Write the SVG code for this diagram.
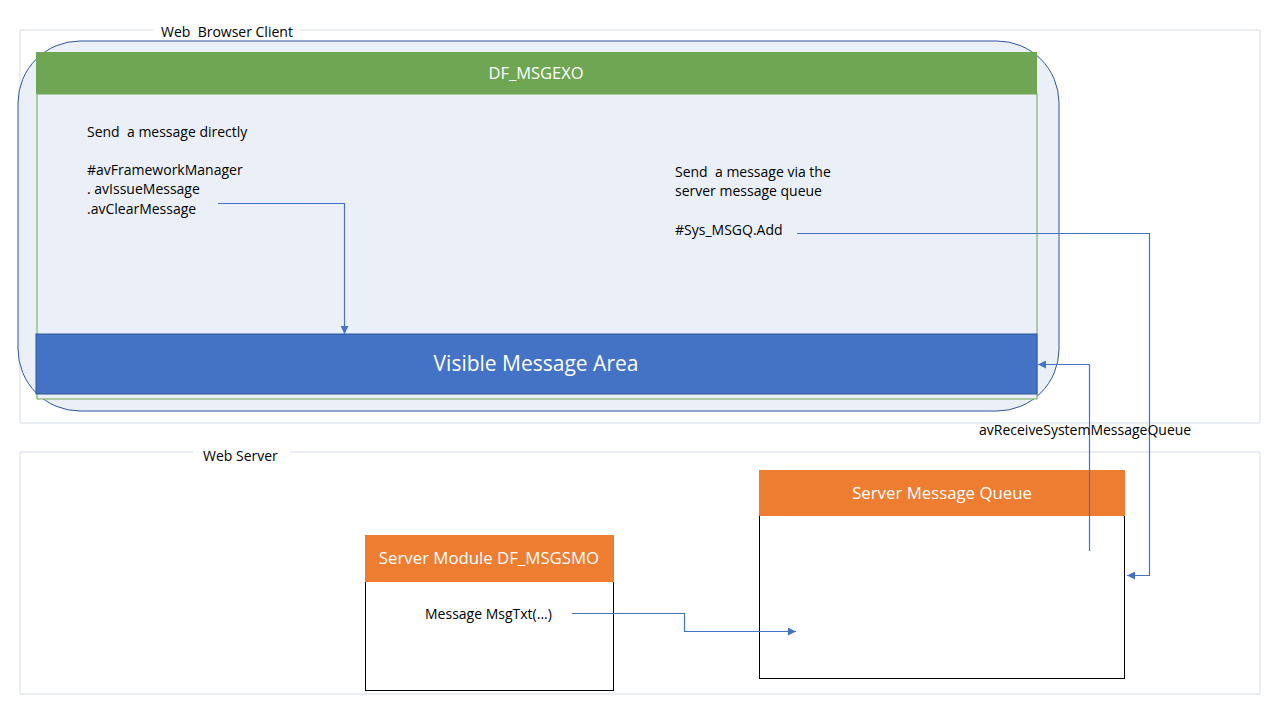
<svg xmlns="http://www.w3.org/2000/svg" width="1280" height="720" viewBox="0 0 1280 720">
<style>
.frame{fill:none;stroke:#D6DCE5;stroke-width:1}
.t{font-family:"Open Sans","Liberation Sans",sans-serif;font-size:14px;fill:#000;white-space:pre}
.w{font-family:"Open Sans","Liberation Sans",sans-serif;fill:#fff;text-anchor:middle}
.c{fill:none;stroke:#4472C4;stroke-width:1.2}
</style>
<defs>
<marker id="ah" viewBox="0 0 10 10" refX="10" refY="5" markerWidth="8" markerHeight="8" markerUnits="userSpaceOnUse" orient="auto">
<path d="M0,0 L10,5 L0,10 z" fill="#4472C4"/>
</marker>
</defs>
<rect width="1280" height="720" fill="#fff"/>
<g id="web-browser-client">
<path class="frame" d="M153,30 H20 V423 H1260 V30 H300"/>
<text class="t" x="161" y="37" xml:space="preserve">Web  Browser Client</text>
<rect x="18" y="41" width="1041" height="370" rx="62" ry="62" fill="#EBF0F8" stroke="#2F5597" stroke-width="1"/>
</g>
<g id="df-msgexo">
<rect x="37" y="94" width="1000" height="305" fill="#EBF0F8" stroke="#6FA852" stroke-width="1"/>
<rect x="36" y="52" width="1001" height="42" fill="#6EA653"/>
<text class="w" x="536" y="79" font-size="16.5">DF_MSGEXO</text>
<text class="t" x="87" y="137" xml:space="preserve">Send  a message directly</text>
<text class="t" x="87" y="175">#avFrameworkManager</text>
<text class="t" x="87" y="194">. avIssueMessage</text>
<text class="t" x="87" y="214">.avClearMessage</text>
<text class="t" x="675" y="177" xml:space="preserve">Send  a message via the</text>
<text class="t" x="675" y="196">server message queue</text>
<text class="t" x="675" y="235">#Sys_MSGQ.Add</text>
</g>
<g id="visible-message-area">
<rect x="36" y="334" width="1001" height="60" fill="#4472C4" stroke="#2F5597" stroke-width="1"/>
<text class="w" x="536" y="371" font-size="21">Visible Message Area</text>
</g>
<g id="web-server">
<path class="frame" d="M193,452 H20 V694 H1260 V452 H290"/>
<text class="t" x="203" y="461">Web Server</text>
</g>
<g id="server-module">
<rect x="365.5" y="535.5" width="248" height="155" fill="#fff" stroke="#000" stroke-width="1"/>
<rect x="365" y="535" width="249" height="47" fill="#ED7D31"/>
<text class="w" x="489" y="564" font-size="16.8">Server Module DF_MSGSMO</text>
<text class="t" x="425" y="619">Message MsgTxt(...)</text>
</g>
<g id="server-message-queue">
<rect x="759.5" y="470.5" width="365" height="208" fill="#fff" stroke="#000" stroke-width="1"/>
<rect x="759" y="470" width="366" height="46" fill="#ED7D31"/>
<text class="w" x="942" y="499" font-size="16.8">Server Message Queue</text>
</g>
<g id="connectors">
<polyline class="c" points="218,203.5 344.5,203.5 344.5,334" marker-end="url(#ah)"/>
<polyline class="c" points="797,233.5 1149.5,233.5 1149.5,575.5 1127,575.5" marker-end="url(#ah)"/>
<polyline class="c" points="1089.5,551 1089.5,364.5 1038,364.5" marker-end="url(#ah)"/>
<polyline class="c" points="572,613.5 684.5,613.5 684.5,631.5 796,631.5" marker-end="url(#ah)"/>
<text class="t" x="979" y="435">avReceiveSystemMessageQueue</text>
</g>
</svg>
